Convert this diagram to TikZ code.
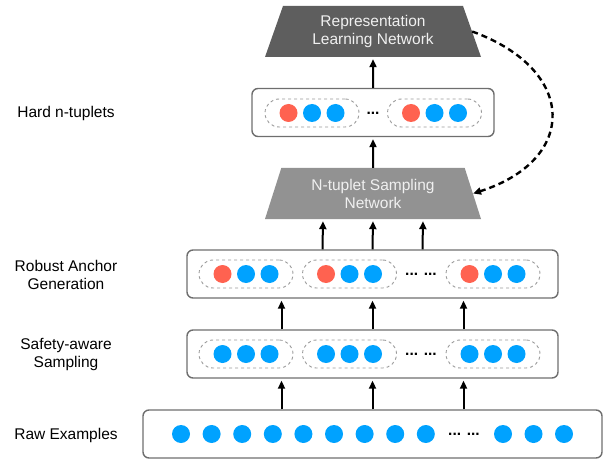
\documentclass[tikz,border=0pt]{standalone}
\usepackage{fontspec}
\setmainfont{Liberation Sans}
\usetikzlibrary{shapes.geometric,arrows.meta}
\definecolor{dotblue}{HTML}{00A2FF}
\definecolor{dotred}{HTML}{FF6250}
\definecolor{boxgray}{HTML}{6E6E6E}
\definecolor{groupgray}{HTML}{9A9A9A}
\definecolor{netdark}{HTML}{5E5E5E}
\definecolor{netlight}{HTML}{929292}

\begin{document}
\begin{tikzpicture}[x=10pt,y=10pt,
    every node/.style={font=\fontsize{15.5}{18}\selectfont},
    box/.style={draw=boxgray, line width=1.4pt, rounded corners=6pt, minimum height=48pt, inner sep=0pt},
    group/.style={draw=groupgray, dashed, line width=0.9pt, rounded corners=14pt, minimum width=94pt, minimum height=28pt, inner sep=0pt},
    bluedot/.style={circle, fill=dotblue, minimum size=18pt, inner sep=0pt},
    reddot/.style={bluedot, fill=dotred},
    net/.style={trapezium, trapezium angle=61, trapezium stretches body, minimum width=216pt, minimum height=51pt, inner sep=0pt, text=white!94!black, align=center},
    arr/.style={-{Triangle[length=8pt,width=7pt]}, line width=2pt, shorten >=2pt},
    stage/.style={align=center},
    dots/.style={inner sep=0pt, font=\fontsize{15.5}{18}\selectfont\bfseries}
  ]
  \useasboundingbox (0,0) rectangle (60.9,-46.2);

  % networks
  \node[net, fill=netdark] (rln) at (37.3,-3.15) {Representation\\Learning Network};
  \node[net, fill=netlight] (nsn) at (37.3,-19.35) {N-tuplet Sampling\\Network};

  % stage boxes
  \node[box, minimum width=242pt] (hard) at (37.3,-11.25) {};
  \node[box, minimum width=371pt] (robust) at (37.25,-27.4) {};
  \node[box, minimum width=371pt] (safe) at (37.25,-35.4) {};
  \node[box, minimum width=459pt] (raw) at (37.25,-43.4) {};

  % stage names
  \node[stage] (lhard) at (6.6,-11.3) {Hard n-tuplets};
  \node[stage] (lrobust) at (6.6,-27.45) {Robust Anchor\\Generation};
  \node[stage] (lsafe) at (6.6,-35.4) {Safety-aware\\Sampling};
  \node[stage] (lraw) at (6.6,-43.5) {Raw Examples};

  % hard n-tuplets
  \foreach \gx/\gn in {31.2/1, 43.45/2} {
    \node[group] (hg\gn) at (\gx,-11.3) {};
    \node[reddot] (hg\gn a) at (\gx-2.35,-11.3) {};
    \node[bluedot] (hg\gn b) at (\gx,-11.3) {};
    \node[bluedot] (hg\gn c) at (\gx+2.35,-11.3) {};
  }
  \node[dots] (hdots) at (37.3,-11.3) {...};

  % robust anchors
  \foreach \gx/\gn in {24.6/1, 34.95/2, 49.3/3} {
    \node[group] (rg\gn) at (\gx,-27.4) {};
    \node[reddot] (rg\gn a) at (\gx-2.35,-27.4) {};
    \node[bluedot] (rg\gn b) at (\gx,-27.4) {};
    \node[bluedot] (rg\gn c) at (\gx+2.35,-27.4) {};
  }
  \node[dots] (rdots) at (42.1,-27.4) {... ...};

  % safety-aware sampling
  \foreach \gx/\gn in {24.6/1, 34.95/2, 49.3/3} {
    \node[group] (sg\gn) at (\gx,-35.4) {};
    \node[bluedot] (sg\gn a) at (\gx-2.35,-35.4) {};
    \node[bluedot] (sg\gn b) at (\gx,-35.4) {};
    \node[bluedot] (sg\gn c) at (\gx+2.35,-35.4) {};
  }
  \node[dots] (sdots) at (42.1,-35.4) {... ...};

  % raw examples
  \foreach \x [count=\i] in {18.1,21.16,24.22,27.28,30.34,33.4,36.46,39.52,42.58,50.3,53.35,56.4} {
    \node[bluedot] (raw\i) at (\x,-43.4) {};
  }
  \node[dots] (wdots) at (46.4,-43.4) {... ...};

  % arrows
  \draw[arr] (hard.north) -- (rln.south);
  \draw[arr] (nsn.north) -- (hard.south);
  \foreach \s in {-50pt,0pt,50pt}
    \draw[arr] ([xshift=\s]robust.north) -- ([xshift=\s]nsn.south);
  \foreach \s in {-91pt,0pt,91pt} {
    \draw[arr] ([xshift=\s]safe.north) -- ([xshift=\s]robust.south);
    \draw[arr] ([xshift=\s]raw.north) -- ([xshift=\s]safe.south);
  }
  \draw[arr, dash pattern=on 6pt off 4pt, line width=2.4pt, shorten >=0pt] (rln.east) .. controls (57.8,-7) and (57.8,-16) .. (nsn.east);
\end{tikzpicture}
\end{document}
